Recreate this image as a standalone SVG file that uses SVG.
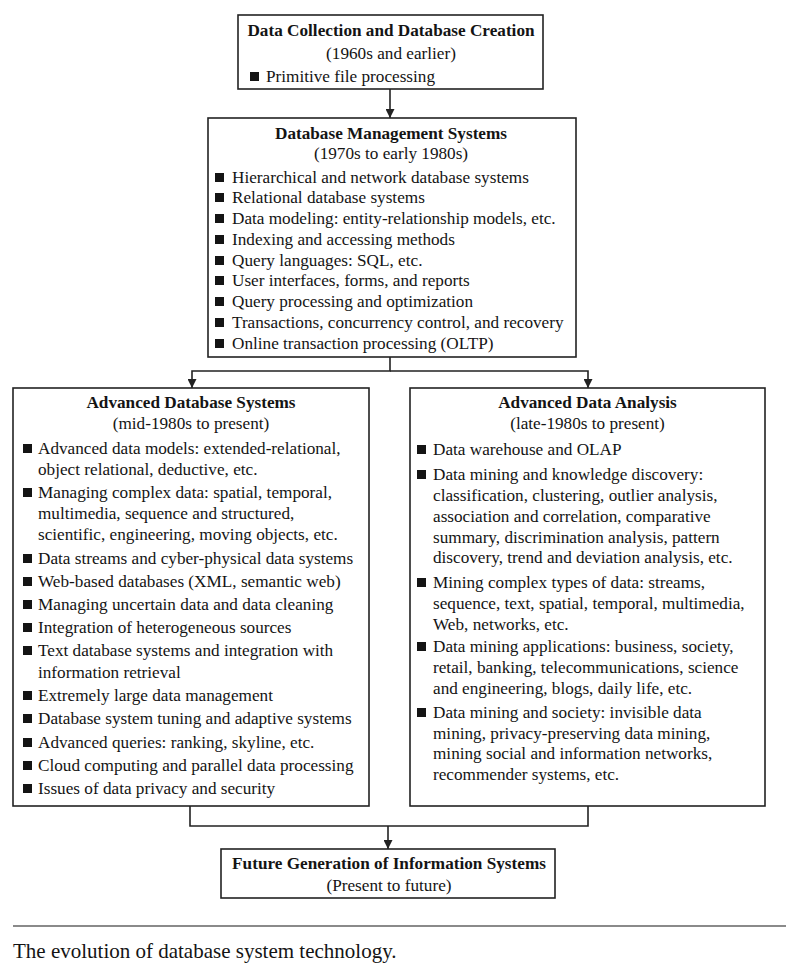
<svg xmlns="http://www.w3.org/2000/svg" width="786" height="966" viewBox="0 0 786 966">
<style>
text{font-family:"Liberation Serif","Times New Roman",serif;font-size:17.2px;fill:#141414}
.t{font-weight:bold;text-anchor:middle}
.s{text-anchor:middle}
.box{fill:#fff;stroke:#222;stroke-width:1.6}
.b{fill:#141414}
.c{fill:none;stroke:#222;stroke-width:1.6}
.cap{font-size:21px}
</style>
<defs>
<marker id="ah" viewBox="0 0 10 10" refX="10" refY="5" markerWidth="9" markerHeight="9" markerUnits="userSpaceOnUse" orient="auto">
<path d="M0,0 L10,5 L0,10 z" fill="#222"/>
</marker>
</defs>
<rect width="786" height="966" fill="#fff"/>

<g id="connectors">
<path class="c" d="M390,89 V118" marker-end="url(#ah)"/>
<path class="c" d="M390,357 V371 H192 V388" marker-end="url(#ah)"/>
<path class="c" d="M390,371 H588 V388" marker-end="url(#ah)"/>
<path class="c" d="M190,806 V826 H588 V806"/>
<path class="c" d="M388,826 V849" marker-end="url(#ah)"/>
</g>

<g id="n1">
<rect class="box" x="238" y="15" width="305" height="74"/>
<text class="t" x="391" y="36">Data Collection and Database Creation</text>
<text class="s" x="391" y="59">(1960s and earlier)</text>
<rect class="b" x="250" y="72" width="9" height="9"/>
<text x="266" y="82">Primitive file processing</text>
</g>

<g id="n2">
<rect class="box" x="208" y="118" width="368" height="239"/>
<text class="t" x="391" y="139">Database Management Systems</text>
<text class="s" x="391" y="159">(1970s to early 1980s)</text>
<g>
<rect class="b" x="215" y="173" width="9" height="9"/><text x="232" y="183">Hierarchical and network database systems</text>
<rect class="b" x="215" y="193" width="9" height="9"/><text x="232" y="203">Relational database systems</text>
<rect class="b" x="215" y="214" width="9" height="9"/><text x="232" y="224">Data modeling: entity-relationship models, etc.</text>
<rect class="b" x="215" y="235" width="9" height="9"/><text x="232" y="245">Indexing and accessing methods</text>
<rect class="b" x="215" y="256" width="9" height="9"/><text x="232" y="266">Query languages: SQL, etc.</text>
<rect class="b" x="215" y="276" width="9" height="9"/><text x="232" y="286">User interfaces, forms, and reports</text>
<rect class="b" x="215" y="297" width="9" height="9"/><text x="232" y="307">Query processing and optimization</text>
<rect class="b" x="215" y="318" width="9" height="9"/><text x="232" y="328">Transactions, concurrency control, and recovery</text>
<rect class="b" x="215" y="339" width="9" height="9"/><text x="232" y="349">Online transaction processing (OLTP)</text>
</g>
</g>

<g id="n3">
<rect class="box" x="13" y="388" width="356" height="418"/>
<text class="t" x="191" y="408">Advanced Database Systems</text>
<text class="s" x="191" y="429">(mid-1980s to present)</text>
<rect class="b" x="23" y="444" width="9" height="9"/><text x="38" y="454">Advanced data models: extended-relational,</text>
<text x="38" y="475">object relational, deductive, etc.</text>
<rect class="b" x="23" y="488" width="9" height="9"/><text x="38" y="498">Managing complex data: spatial, temporal,</text>
<text x="38" y="519">multimedia, sequence and structured,</text>
<text x="38" y="540">scientific, engineering, moving objects, etc.</text>
<rect class="b" x="23" y="554" width="9" height="9"/><text x="38" y="564">Data streams and cyber-physical data systems</text>
<rect class="b" x="23" y="577" width="9" height="9"/><text x="38" y="587">Web-based databases (XML, semantic web)</text>
<rect class="b" x="23" y="600" width="9" height="9"/><text x="38" y="610">Managing uncertain data and data cleaning</text>
<rect class="b" x="23" y="623" width="9" height="9"/><text x="38" y="633">Integration of heterogeneous sources</text>
<rect class="b" x="23" y="646" width="9" height="9"/><text x="38" y="656">Text database systems and integration with</text>
<text x="38" y="678">information retrieval</text>
<rect class="b" x="23" y="691" width="9" height="9"/><text x="38" y="701">Extremely large data management</text>
<rect class="b" x="23" y="714" width="9" height="9"/><text x="38" y="724">Database system tuning and adaptive systems</text>
<rect class="b" x="23" y="738" width="9" height="9"/><text x="38" y="748">Advanced queries: ranking, skyline, etc.</text>
<rect class="b" x="23" y="761" width="9" height="9"/><text x="38" y="771">Cloud computing and parallel data processing</text>
<rect class="b" x="23" y="784" width="9" height="9"/><text x="38" y="794">Issues of data privacy and security</text>
</g>

<g id="n4">
<rect class="box" x="410" y="388" width="355" height="418"/>
<text class="t" x="587.5" y="408">Advanced Data Analysis</text>
<text class="s" x="587.5" y="429">(late-1980s to present)</text>
<rect class="b" x="417" y="445" width="9" height="9"/><text x="433" y="455">Data warehouse and OLAP</text>
<rect class="b" x="417" y="470" width="9" height="9"/><text x="433" y="480">Data mining and knowledge discovery:</text>
<text x="433" y="501">classification, clustering, outlier analysis,</text>
<text x="433" y="522">association and correlation, comparative</text>
<text x="433" y="543">summary, discrimination analysis, pattern</text>
<text x="433" y="563">discovery, trend and deviation analysis, etc.</text>
<rect class="b" x="417" y="578" width="9" height="9"/><text x="433" y="588">Mining complex types of data: streams,</text>
<text x="433" y="609">sequence, text, spatial, temporal, multimedia,</text>
<text x="433" y="630">Web, networks, etc.</text>
<rect class="b" x="417" y="642" width="9" height="9"/><text x="433" y="652">Data mining applications: business, society,</text>
<text x="433" y="673">retail, banking, telecommunications, science</text>
<text x="433" y="694">and engineering, blogs, daily life, etc.</text>
<rect class="b" x="417" y="708" width="9" height="9"/><text x="433" y="718">Data mining and society: invisible data</text>
<text x="433" y="739">mining, privacy-preserving data mining,</text>
<text x="433" y="759">mining social and information networks,</text>
<text x="433" y="780">recommender systems, etc.</text>
</g>

<g id="n5">
<rect class="box" x="221" y="849" width="334" height="49"/>
<text class="t" x="389" y="869">Future Generation of Information Systems</text>
<text class="s" x="389" y="891">(Present to future)</text>
</g>

<line x1="13" y1="926" x2="786" y2="926" stroke="#8a8a8a" stroke-width="2"/>
<text class="cap" x="13" y="958">The evolution of database system technology.</text>
</svg>
